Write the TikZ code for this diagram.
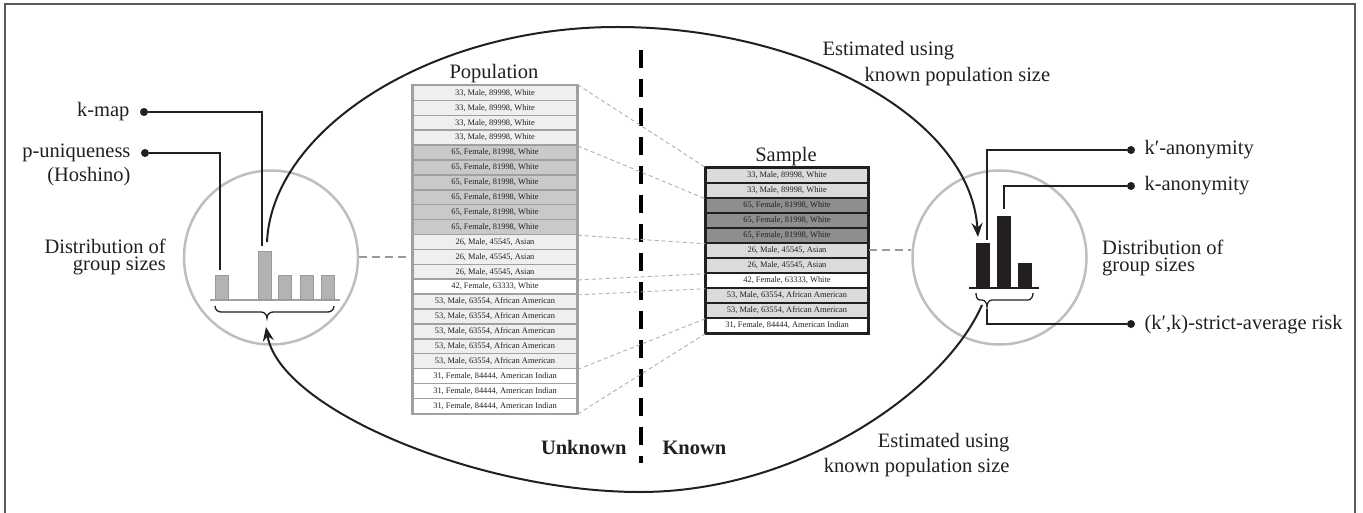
\documentclass[tikz,border=0pt]{standalone}
\usepackage{fontspec}
\setmainfont{Liberation Serif}
\usetikzlibrary{arrows.meta,calc}
\definecolor{ink}{HTML}{231F20}
\definecolor{framecol}{HTML}{5A5A5A}
\definecolor{circcol}{HTML}{BEBEBE}
\definecolor{popedge}{HTML}{A0A0A0}
\definecolor{popA}{HTML}{EFEFF1}
\definecolor{popB}{HTML}{C9C9C9}
\definecolor{sampA}{HTML}{DBDBDB}
\definecolor{sampB}{HTML}{8E8E8E}
\definecolor{lbarfill}{HTML}{B2B3B5}
\definecolor{lbaredge}{HTML}{9A9A9A}
\definecolor{thindash}{HTML}{B0B0B0}
\definecolor{thickdash}{HTML}{9A9A9A}
\tikzset{
  every node/.style={font=\fontsize{20.5}{24}\selectfont, text=ink},
  tabfont/.style={font=\fontsize{8.4}{10}\selectfont},
  poprow/.style={draw=popedge, line width=1.5, minimum width=164, minimum height=14.9, inner sep=0, tabfont},
  samprow/.style={draw=ink, line width=1.5, minimum width=162, minimum height=15, inner sep=0, tabfont},
  ringnode/.style={circle, draw=circcol, line width=2.5, minimum size=174, inner sep=0},
  lbar/.style={draw=lbaredge, fill=lbarfill, line width=0.8, minimum width=13, inner sep=0, anchor=south},
  rbar/.style={fill=ink, minimum width=14, inner sep=0, anchor=south},
  ldot/.style={circle, fill=ink, inner sep=0, minimum size=8},
  lead/.style={draw=ink, line width=1.2},
  matchline/.style={draw=thindash, line width=0.9, dash pattern=on 4 off 3},
  linkdash/.style={draw=thickdash, line width=2, dash pattern=on 8 off 5},
  bigarc/.style={draw=ink, line width=2},
  arrowtip/.style={-{Stealth[length=14, width=11]}},
  bracepath/.style={draw=ink, line width=1.3},
  divider/.style={draw=black, line width=4.2, dash pattern=on 18 off 11},
  twoline/.style={font=\fontsize{20.5}{17}\selectfont, inner sep=0},
}
\begin{document}
\begin{tikzpicture}[x=1pt, y=-1pt]
\useasboundingbox (0,0) rectangle (1363,513);
% frame
\draw[framecol, line width=1.5] (5,530) -- (5,4) -- (1355,4) -- (1355,530);

% divider
\coordinate (dvt) at (641,50);
\coordinate (dvb) at (641,463);
\draw[divider] (dvt) -- (dvb);
\node[anchor=base east, font=\fontsize{20.5}{24}\selectfont\bfseries] (unk) at (630,454) {Unknown};
\node[anchor=base west, font=\fontsize{20.5}{24}\selectfont\bfseries] (kn) at (659,454) {Known};

% population table
\node[anchor=base] (poptitle) at (494,79) {Population};
\node[poprow, fill=popA] (p1) at (495,92.95) {33, Male, 89998, White};
\node[poprow, fill=popA] (p2) at (495,107.85) {33, Male, 89998, White};
\node[poprow, fill=popA] (p3) at (495,122.75) {33, Male, 89998, White};
\node[poprow, fill=popA] (p4) at (495,137.65) {33, Male, 89998, White};
\node[poprow, fill=popB] (p5) at (495,152.55) {65, Female, 81998, White};
\node[poprow, fill=popB] (p6) at (495,167.45) {65, Female, 81998, White};
\node[poprow, fill=popB] (p7) at (495,182.35) {65, Female, 81998, White};
\node[poprow, fill=popB] (p8) at (495,197.25) {65, Female, 81998, White};
\node[poprow, fill=popB] (p9) at (495,212.15) {65, Female, 81998, White};
\node[poprow, fill=popB] (p10) at (495,227.05) {65, Female, 81998, White};
\node[poprow, fill=popA] (p11) at (495,241.95) {26, Male, 45545, Asian};
\node[poprow, fill=popA] (p12) at (495,256.85) {26, Male, 45545, Asian};
\node[poprow, fill=popA] (p13) at (495,271.75) {26, Male, 45545, Asian};
\node[poprow, fill=white] (p14) at (495,286.65) {42, Female, 63333, White};
\node[poprow, fill=popA] (p15) at (495,301.55) {53, Male, 63554, African American};
\node[poprow, fill=popA] (p16) at (495,316.45) {53, Male, 63554, African American};
\node[poprow, fill=popA] (p17) at (495,331.35) {53, Male, 63554, African American};
\node[poprow, fill=popA] (p18) at (495,346.25) {53, Male, 63554, African American};
\node[poprow, fill=popA] (p19) at (495,361.15) {53, Male, 63554, African American};
\node[poprow, fill=white] (p20) at (495,376.05) {31, Female, 84444, American Indian};
\node[poprow, fill=white] (p21) at (495,390.95) {31, Female, 84444, American Indian};
\node[poprow, fill=white] (p22) at (495,405.85) {31, Female, 84444, American Indian};
\draw[popedge, line width=2] (p1.north west) rectangle (p22.south east);

% sample table
\node[anchor=base] (samptitle) at (786,162) {Sample};
\node[samprow, fill=sampA] (s1) at (787,175.5) {33, Male, 89998, White};
\node[samprow, fill=sampA] (s2) at (787,190.5) {33, Male, 89998, White};
\node[samprow, fill=sampB] (s3) at (787,205.5) {65, Female, 81998, White};
\node[samprow, fill=sampB] (s4) at (787,220.5) {65, Female, 81998, White};
\node[samprow, fill=sampB] (s5) at (787,235.5) {65, Female, 81998, White};
\node[samprow, fill=sampA] (s6) at (787,250.5) {26, Male, 45545, Asian};
\node[samprow, fill=sampA] (s7) at (787,265.5) {26, Male, 45545, Asian};
\node[samprow, fill=white] (s8) at (787,280.5) {42, Female, 63333, White};
\node[samprow, fill=sampA] (s9) at (787,295.5) {53, Male, 63554, African American};
\node[samprow, fill=sampA] (s10) at (787,310.5) {53, Male, 63554, African American};
\node[samprow, fill=white] (s11) at (787,325.5) {31, Female, 84444, American Indian};
\draw[ink, line width=2.2] (s1.north west) rectangle (s11.south east);

% matching dashed lines
\draw[matchline] (p1.north east) -- (s1.north west);
\draw[matchline] (p4.south east) -- (s2.south west);
\draw[matchline] (p10.south east) -- (s5.south west);
\draw[matchline] (p13.south east) -- (s7.south west);
\draw[matchline] (p14.south east) -- (s8.south west);
\draw[matchline] (p19.south east) -- (s10.south west);
\draw[matchline] (p22.south east) -- (s11.south west);

% left circle
\node[ringnode] (lc) at (271,257.5) {};
\draw[linkdash] (lc.east) -- (lc.east -| p12.west);
\draw[popedge, line width=2] (210,300) -- (340,300);
\node[lbar, minimum height=24] (lb1) at (221.5,300) {};
\node[lbar, minimum height=48] (lb2) at (264.5,300) {};
\node[lbar, minimum height=24] (lb3) at (285,300) {};
\node[lbar, minimum height=24] (lb4) at (306.5,300) {};
\node[lbar, minimum height=24] (lb5) at (327.5,300) {};
\coordinate (lbtip) at (267,318);
\draw[bracepath] (215,306) to[out=-90,in=180] (221,312) -- (261,312) to[out=0,in=90] (lbtip) to[out=90,in=180] (273,312) -- (328,312) to[out=0,in=-90] (334,306);
\node[twoline, anchor=base east, align=right] (ldist) at (166,270.5) {Distribution of\\group sizes};

\node[ldot] (kmapdot) at (144,112) {};
\node[anchor=base east] (kmap) at (133,117) {k-map};
\draw[lead] (kmapdot) -| ([xshift=-2.5,yshift=5]lb2.north);
\node[ldot] (pudot) at (145,153) {};
\node[anchor=base east] (puniq) at (134,158) {p-uniqueness};
\node[anchor=base east] (hosh) at (134,182) {(Hoshino)};
\draw[lead] (pudot) -| ([xshift=-1.5,yshift=5]lb1.north);

% right circle
\node[ringnode] (rc) at (999.5,257.5) {};
\draw[linkdash] (s6.east) -- (rc.west |- s6.east);
\draw[ink, line width=2] (969,288) -- (1039,288);
\node[rbar, minimum height=45] (rb1) at (983,288) {};
\node[rbar, minimum height=72] (rb2) at (1004,288) {};
\node[rbar, minimum height=25] (rb3) at (1025,288) {};
\coordinate (rbtip) at (987,307);
\draw[bracepath] (976,293) to[out=-90,in=180] (980,300) -- (982,300) to[out=0,in=90] (rbtip) to[out=90,in=180] (992,300) -- (1028,300) to[out=0,in=-90] (1033,293);
\node[twoline, anchor=base west, align=left] (rdist) at (1102,271) {Distribution of\\group sizes};

\node[ldot] (kpdot) at (1131,150) {};
\node[anchor=base west] (kpanon) at (1141,155) {k′-anonymity};
\draw[lead] (kpdot) -| ([xshift=4,yshift=3]rb1.north);
\node[ldot] (kdot) at (1131,186) {};
\node[anchor=base west] (kanon) at (1141,191) {k-anonymity};
\draw[lead] (kdot) -| ([yshift=7]rb2.north);
\node[ldot] (sdot) at (1131,324) {};
\node[anchor=base west] (strict) at (1141,329) {(k′,k)-strict-average risk};
\draw[lead] (sdot) -| ([yshift=-2]rbtip);

% estimated texts
\node[anchor=base west] (esttop1) at (819,56) {Estimated using};
\node[anchor=base west] (esttop2) at (861,82) {known population size};
\node[anchor=base east] (estbot1) at (1013,447) {Estimated using};
\node[anchor=base east] (estbot2) at (1013,472) {known population size};

% big arcs
\coordinate (upstart) at (267,242);
\coordinate (uptop) at (617,27);
\coordinate (upend) at (978,237);
\coordinate (lowstart) at (982,305);
\coordinate (lowbot) at (640,492);
\coordinate (lowend) at (266,327);
\draw[bigarc, arrowtip] (upstart) .. controls (272,130) and (430,27) .. (uptop)
   .. controls (800,27) and (970,115) .. (upend);
\draw[bigarc, arrowtip] (lowstart) .. controls (945,390) and (800,492) .. (lowbot)
   .. controls (480,492) and (280,410) .. (lowend);
\end{tikzpicture}
\end{document}
